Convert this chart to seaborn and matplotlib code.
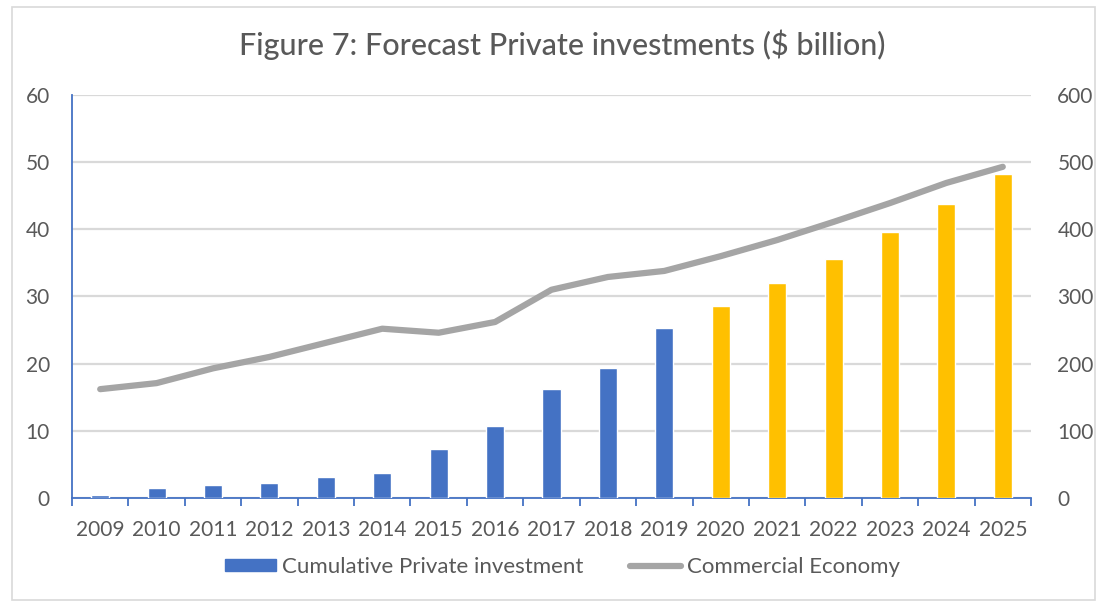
import matplotlib
matplotlib.use("Agg")
import matplotlib.pyplot as plt
from matplotlib.patches import Patch, Rectangle
from matplotlib.lines import Line2D
import seaborn as sns
import pandas as pd

# Data
years = [str(y) for y in range(2009, 2026)]
private_investment = [0.5, 1.5, 1.9, 2.3, 3.1, 3.7, 7.3, 10.7, 16.2, 19.4, 25.3,
                      28.6, 32.0, 35.6, 39.6, 43.8, 48.2]
commercial_economy = [162, 171, 193, 210, 231, 252, 246, 262, 310, 329, 338,
                      360, 384, 411, 439, 469, 493]
n_actual = 11  # 2009-2019 are actuals, the rest forecasts

BLUE = "#4472C4"
GOLD = "#FFC000"
GREY_LINE = "#A5A5A5"
TEXT = "#595959"
GRID = "#D9D9D9"

sns.set_theme(style="white")
plt.rcParams["font.family"] = ["Lato", "DejaVu Sans"]

df = pd.DataFrame({"year": years, "invest": private_investment,
                   "econ": commercial_economy, "pos": range(len(years))})
bar_colors = {y: (BLUE if i < n_actual else GOLD) for i, y in enumerate(years)}

fig = plt.figure(figsize=(11.01, 6.07), dpi=100)
ax = fig.add_axes([0.0654, 0.1796, 0.871, 0.664])

sns.barplot(data=df, x="year", y="invest", hue="year", palette=bar_colors,
            saturation=1, width=0.32, legend=False, ax=ax, zorder=3)

ax.set_ylim(0, 60)
ax.set_xlim(-0.5, len(years) - 0.5)
ax.set_yticks(range(0, 61, 10))
ax.yaxis.grid(True, color=GRID, linewidth=1.6, zorder=0)
ax.set_axisbelow(True)
ax.set_xlabel("")
ax.set_ylabel("")

for s in ["top", "right"]:
    ax.spines[s].set_visible(False)
ax.spines["left"].set_color(BLUE)
ax.spines["bottom"].set_color(BLUE)
ax.spines["left"].set_linewidth(1.3)
ax.spines["bottom"].set_linewidth(1.3)

ax.tick_params(axis="x", which="major", length=0, labelsize=15,
               labelcolor=TEXT, pad=16)
ax.set_xticks([i - 0.5 for i in range(len(years) + 1)], minor=True)
ax.tick_params(axis="x", which="minor", bottom=True, length=6, color=BLUE,
               width=1.3)
ax.tick_params(axis="y", length=0, labelsize=15, labelcolor=TEXT, pad=16)

ax2 = ax.twinx()
sns.lineplot(data=df, x="pos", y="econ", color=GREY_LINE, linewidth=4.5,
             ax=ax2, solid_capstyle="round", zorder=4)
ax2.set_ylim(0, 600)
ax2.set_yticks(range(0, 601, 100))
ax2.set_xlim(-0.5, len(years) - 0.5)
ax2.set_ylabel("")
ax2.set_xlabel("")
for s in ["top", "right", "left", "bottom"]:
    ax2.spines[s].set_visible(False)
ax2.tick_params(axis="y", length=0, labelsize=15, labelcolor=TEXT, pad=19)
ax2.grid(False)

fig.text(0.511, 0.926, "Figure 7: Forecast Private investments ($ billion)",
         ha="center", va="center", fontsize=22, fontweight="medium", color=TEXT)

handles = [Patch(facecolor=BLUE, edgecolor=BLUE),
           Line2D([0], [0], color=GREY_LINE, linewidth=4.5)]
fig.legend(handles, ["Cumulative Private investment", "Commercial Economy"],
           loc="center", bbox_to_anchor=(0.511, 0.066), ncol=2, frameon=False,
           fontsize=16, labelcolor=TEXT, handlelength=2.3, handleheight=0.4,
           columnspacing=2.1, handletextpad=0.27)

fig.patches.append(Rectangle((0.011, 0.012), 0.984, 0.976, transform=fig.transFigure,
                             fill=False, edgecolor="#D9D9D9", linewidth=1.2))

fig.savefig("out.png", dpi=100)
